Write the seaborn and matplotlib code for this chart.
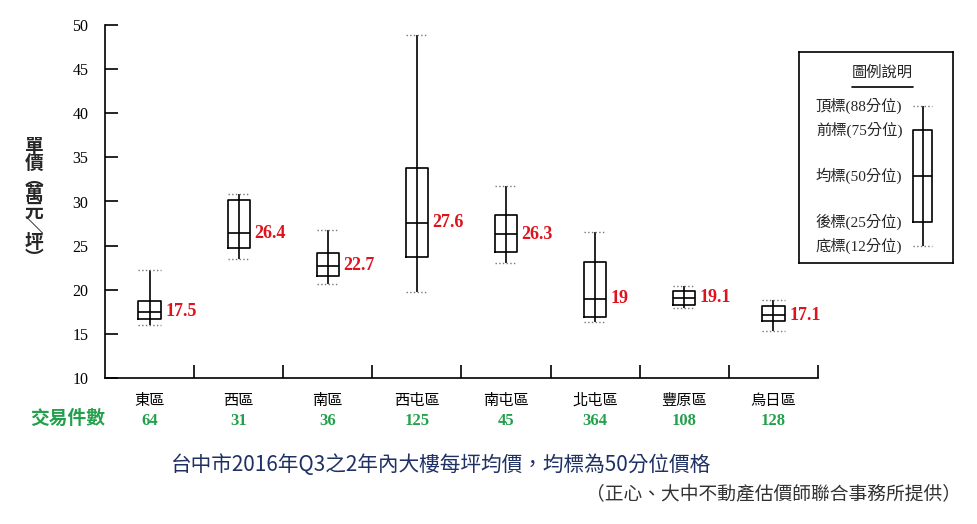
import numpy as np
import pandas as pd
import matplotlib
matplotlib.use("Agg")
import matplotlib.pyplot as plt
import matplotlib.transforms as mtransforms
import seaborn as sns

# 台中市 各區大樓每坪單價 (萬元/坪) 的分位數
districts = ["東區", "西區", "南區", "西屯區", "南屯區", "北屯區", "豐原區", "烏日區"]
p12 = [16.0, 23.5, 20.7, 19.7, 23.0, 16.3, 17.9, 15.3]
p25 = [16.7, 24.7, 21.6, 23.7, 24.3, 16.9, 18.3, 16.5]
p50 = [17.5, 26.4, 22.7, 27.6, 26.3, 19.0, 19.1, 17.1]
p75 = [18.7, 30.2, 24.2, 33.8, 28.5, 23.1, 19.9, 18.2]
p88 = [22.2, 30.8, 26.8, 48.9, 31.7, 26.6, 20.4, 18.8]
counts = [64, 31, 36, 125, 45, 364, 108, 128]

legend_pcts = [12, 25, 50, 75, 88]
legend_labels = ["底標(12分位)", "後標(25分位)", "均標(50分位)", "前標(75分位)", "頂標(88分位)"]

# long table: each district gets its five quantile values
df = pd.DataFrame({
    "district": np.repeat(districts, 5),
    "price": np.column_stack([p12, p25, p50, p75, p88]).ravel(),
})

sns.set_theme(style="white")
plt.rcParams["font.family"] = ["Noto Sans CJK TC", "DejaVu Sans"]
SERIF = ["Liberation Serif", "DejaVu Serif"]

W, H = 978, 524
fig = plt.figure(figsize=(W / 100, H / 100), dpi=100)


def fx(px):
    return px / W


def fy(py):
    return 1 - py / H


ax = fig.add_axes([fx(105), fy(378), fx(818 - 105), (378 - 25) / H])

box_w = 0.25
line_kw = dict(color="black", linewidth=1.2)
cap_kw = dict(color="#777777", linestyle=":", linewidth=1.0)
sns.boxplot(
    data=df, x="district", y="price", order=districts, ax=ax,
    whis=(0, 100), width=box_w, fill=False, color="black", linewidth=1.2,
    capwidths=[box_w] * len(districts), capprops=cap_kw,
)
# whisker line runs through the box as in the original
ax.vlines(np.arange(len(districts)), p25, p75, **line_kw)

ax.set_xlim(-0.5, len(districts) - 0.5)
ax.set_ylim(10, 50)
ax.set_xlabel("")
ax.set_ylabel("")
for s in ["top", "right"]:
    ax.spines[s].set_visible(False)
for s in ["left", "bottom"]:
    ax.spines[s].set_color("black")
    ax.spines[s].set_linewidth(1.2)

ax.set_yticks(range(10, 51, 5))
ax.tick_params(axis="y", direction="in", length=9.5, width=1.2, pad=12,
               colors="black", left=True)
for t in ax.get_yticklabels():
    t.set_fontfamily(SERIF)
    t.set_fontsize(11.5)

ax.set_xticks(range(len(districts)))
ax.set_xticklabels(districts, fontsize=11)
ax.set_xticks(np.arange(0.5, len(districts), 1), minor=True)
ax.tick_params(axis="x", which="major", length=0, pad=10, colors="black")
ax.tick_params(axis="x", which="minor", direction="in", length=9.5, width=1.2,
               colors="black", bottom=True)

# median labels
for i, v in enumerate(p50):
    ax.text(i + box_w / 2 + 0.05, v, f"{v:g}", ha="left", va="center",
            color="#e0121c", fontsize=13, fontweight="bold", family=SERIF)

# transaction counts under the category labels
trans = mtransforms.blended_transform_factory(ax.transData, ax.transAxes)
for i, c in enumerate(counts):
    ax.text(i, -0.122, str(c), transform=trans, ha="center", va="center",
            color="#22a04b", fontsize=12, fontweight="bold", family=SERIF)

fig.text(fx(68), fy(418), "交易件數", ha="center", va="center",
         color="#22a04b", fontsize=13.5, fontweight="bold")

# y label written top-to-bottom with vertical-form brackets
fig.text(fx(34), fy(203), "\n".join("單價︵萬元＼坪︶"), ha="center",
         va="center", fontsize=13.5, fontweight="bold", linespacing=0.8)

fig.text(fx(441), fy(465), "台中市2016年Q3之2年內大樓每坪均價，均標為50分位價格",
         ha="center", va="center", color="#1f3064", fontsize=14.9)
fig.text(fx(961), fy(495), "（正心、大中不動產估價師聯合事務所提供）",
         ha="right", va="center", color="#333333", fontsize=13.5)

# legend panel
lg = fig.add_axes([fx(799), fy(263), fx(953 - 799), (263 - 52) / H])
sns.boxplot(
    y=legend_pcts, ax=lg, whis=(0, 100), width=box_w, fill=False,
    color="black", linewidth=1.2, capwidths=[box_w], capprops=cap_kw,
)
lg.vlines([0], [legend_pcts[1]], [legend_pcts[3]], **line_kw)
lg.set_xlim(-1.632, 0.395)
lg.set_ylim(2.8, 117.3)
lg.set_xticks([])
lg.set_yticks([])
lg.set_xlabel("")
lg.set_ylabel("")
for s in lg.spines.values():
    s.set_visible(True)
    s.set_color("black")
    s.set_linewidth(1.2)
for v, lab in zip(legend_pcts, legend_labels):
    lg.text(-1.41, v, lab, ha="left", va="center", fontsize=11,
            family=["Liberation Serif", "Noto Sans CJK TC"])
lg.text(0.54, 0.905, "圖例說明", transform=lg.transAxes, ha="center",
        va="center", fontsize=11)
lg.plot([0.344, 0.74], [0.834, 0.834], transform=lg.transAxes, color="black",
        linewidth=1.2)

fig.savefig("out.png", dpi=100)
